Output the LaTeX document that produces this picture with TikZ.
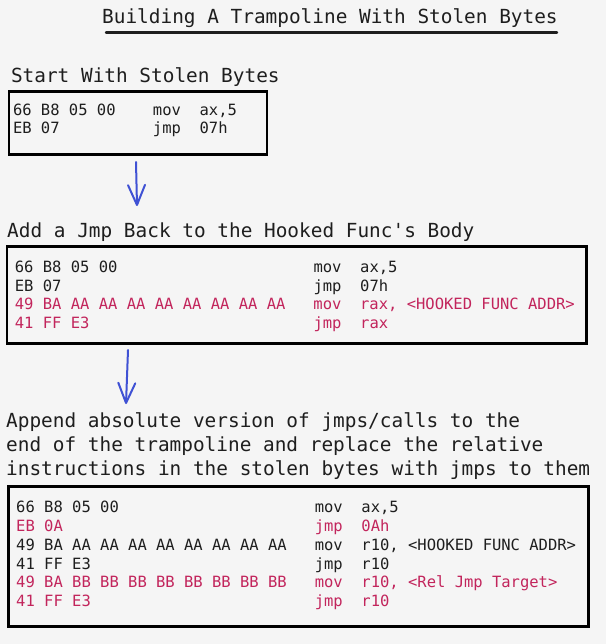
\documentclass[tikz,border=0pt]{standalone}
\usepackage{fontspec}
\setmonofont{DejaVu Sans Mono}
\usetikzlibrary{arrows.meta}
\definecolor{bgc}{HTML}{F5F5F5}
\definecolor{inkc}{HTML}{1E1E1E}
\definecolor{pinkc}{HTML}{C2255C}
\definecolor{bluec}{HTML}{3F51D4}
\newcommand\asm[5]{\makebox[\dimexpr0.60205em*#1\relax][l]{#3}\makebox[\dimexpr0.60205em*#2\relax][l]{#4}#5}
\tikzset{
  heading/.style={font=\ttfamily\fontsize{19.4}{24}\selectfont, text=inkc, anchor=base west, inner sep=0pt},
  code/.style={font=\ttfamily\fontsize{15.5}{18.8}\selectfont, text=inkc, anchor=base west, inner sep=0pt},
  hot/.style={text=pinkc},
  codebox/.style={draw=black, line width=2.8pt, rectangle, inner sep=0pt, anchor=north west},
  flow/.style={draw=bluec, line width=2pt, line cap=round, -{Straight Barb[length=20pt,width=17pt,line cap=round,line join=round]}},
}
\begin{document}
\begin{tikzpicture}[x=1pt,y=-1pt]
\fill[bgc] (0,0) rectangle (606,644);
\useasboundingbox (0,0) rectangle (606,644);

% title
\node[heading] (title) at (102,24) {Building A Trampoline With Stolen Bytes};
\coordinate (ulA) at (106,32.5);
\coordinate (ulB) at (557,32.5);
\draw[inkc, line width=2.4pt, line cap=round] (ulA) -- (ulB);

% step 1
\node[heading] (h1) at (10.8,83) {Start With Stolen Bytes};
\node[codebox, minimum width=258pt, minimum height=62.5pt] (box1) at (7.5,90.5) {};
\node[code] (c1a) at (12.8,115.5) {\asm{15}{5}{66 B8 05 00}{mov}{ax,5}};
\node[code] (c1b) at (12.8,134) {\asm{15}{5}{EB 07}{jmp}{07h}};

% arrow 1
\coordinate (a1s) at (136,162);
\coordinate (a1e) at (137,206);
\draw[flow] (a1s) -- (a1e);

% step 2
\node[heading] (h2) at (7,237) {Add a Jmp Back to the Hooked Func's Body};
\node[codebox, minimum width=579.5pt, minimum height=97pt] (box2) at (5.5,245) {};
\node[code] (c2a) at (14.7,272.3) {\asm{32}{5}{66 B8 05 00}{mov}{ax,5}};
\node[code] (c2b) at (14.7,291.1) {\asm{32}{5}{EB 07}{jmp}{07h}};
\node[code,hot] (c2c) at (14.7,309.9) {\asm{32}{5}{49 BA AA AA AA AA AA AA AA AA}{mov}{rax, <HOOKED FUNC ADDR>}};
\node[code,hot] (c2d) at (14.7,328.7) {\asm{32}{5}{41 FF E3}{jmp}{rax}};

% arrow 2
\coordinate (a2s) at (128,350);
\coordinate (a2e) at (126,404);
\draw[flow] (a2s) -- (a2e);

% step 3
\node[heading] (h3a) at (6,427) {Append absolute version of jmps/calls to the};
\node[heading] (h3b) at (6,451) {end of the trampoline and replace the relative};
\node[heading] (h3c) at (6,475) {instructions in the stolen bytes with jmps to them};
\node[codebox, minimum width=580pt, minimum height=140pt] (box3) at (7,485) {};
\node[code] (c3a) at (16,512.7) {\asm{32}{5}{66 B8 05 00}{mov}{ax,5}};
\node[code,hot] (c3b) at (16,531.5) {\asm{32}{5}{EB 0A}{jmp}{0Ah}};
\node[code] (c3c) at (16,550.3) {\asm{32}{5}{49 BA AA AA AA AA AA AA AA AA}{mov}{r10, <HOOKED FUNC ADDR>}};
\node[code] (c3d) at (16,569.1) {\asm{32}{5}{41 FF E3}{jmp}{r10}};
\node[code,hot] (c3e) at (16,587.9) {\asm{32}{5}{49 BA BB BB BB BB BB BB BB BB}{mov}{r10, <Rel Jmp Target>}};
\node[code,hot] (c3f) at (16,606.7) {\asm{32}{5}{41 FF E3}{jmp}{r10}};
\end{tikzpicture}
\end{document}
